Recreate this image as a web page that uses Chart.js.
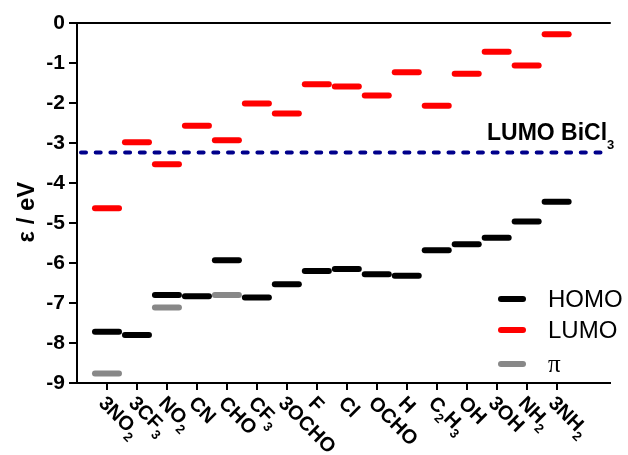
<!DOCTYPE html>
<html>
<head>
<meta charset="utf-8">
<script src="https://cdn.jsdelivr.net/npm/chart.js@4"></script>
<style>
  body { margin: 0; background: #fff; }
  #wrap { width: 628px; height: 455px; }
</style>
</head>
<body>
<div id="wrap"><canvas id="myChart"></canvas></div>
<script>
// _n marks a subscript digit
const substituents = ['3NO_2', '3CF_3', 'NO_2', 'CN', 'CHO', 'CF_3', '3OCHO', 'F', 'Cl', 'OCHO', 'H', 'C_2H_3', 'OH', '3OH', 'NH_2', '3NH_2']
const homo = [-7.72, -7.80, -6.80, -6.83, -5.93, -6.86, -6.53, -6.20, -6.15, -6.28, -6.32, -5.68, -5.53, -5.37, -4.96, -4.47]
const lumo = [-4.63, -2.98, -3.53, -2.57, -2.93, -2.01, -2.26, -1.53, -1.59, -1.81, -1.23, -2.07, -1.27, -0.72, -1.06, -0.28]
const pi = [-8.76, null, -7.11, null, -6.80, null, null, null, null, null, null, null, null, null, null, null]
const bicl3Lumo = -3.24

const FONT = '"Liberation Sans", Arial, sans-serif'
Chart.defaults.font.family = FONT
Chart.defaults.color = '#000'

const toPoints = arr => arr.map((v, i) => ({ x: i + 1, y: v }))

function drawSub(ctx, text, x, y, size, subSize, subDrop) {
    const parts = text.split(/_(\d)/)
    parts.forEach((p, i) => {
        if (!p) return
        if (i % 2) {
            ctx.font = 'bold ' + subSize + 'px ' + FONT
            ctx.fillText(p, x, y + subDrop)
        } else {
            ctx.font = 'bold ' + size + 'px ' + FONT
            ctx.fillText(p, x, y)
        }
        x += ctx.measureText(p).width
    })
}

const extras = {
    id: 'extras',
    beforeDatasetsDraw(chart) {
        const { ctx, chartArea, scales } = chart
        const y = scales.y.getPixelForValue(bicl3Lumo)
        ctx.save()
        ctx.strokeStyle = '#00008B'
        ctx.lineWidth = 4
        ctx.lineCap = 'round'
        ctx.setLineDash([5, 9.7])
        ctx.beginPath()
        ctx.moveTo(chartArea.left + 4, y)
        ctx.lineTo(chartArea.right, y)
        ctx.stroke()
        ctx.restore()

        ctx.save()
        ctx.fillStyle = '#000'
        ctx.textBaseline = 'alphabetic'
        drawSub(ctx, 'LUMO BiCl_3', 487, y - 13, 23, 13, 9)
        ctx.restore()
        // round ends for the level bars
        ctx.lineCap = 'round'
    },
    beforeDatasetDraw(chart) {
        chart.ctx.lineCap = 'round'
    },
    afterDraw(chart) {
        const { ctx, chartArea, scales } = chart
        ctx.save()
        ctx.strokeStyle = '#000'
        ctx.lineWidth = 2
        ctx.beginPath()
        ctx.moveTo(chartArea.left - 1, chartArea.top)
        ctx.lineTo(chartArea.right, chartArea.top)
        ctx.stroke()

        // category labels, rotated down to the right
        ctx.fillStyle = '#000'
        ctx.textAlign = 'left'
        ctx.textBaseline = 'alphabetic'
        substituents.forEach((lab, i) => {
            const x = scales.x.getPixelForValue(i + 1)
            ctx.save()
            ctx.translate(x + 1, 394)
            ctx.rotate(Math.PI / 4)
            drawSub(ctx, lab, 0, 14.5, 20, 13, 6)
            ctx.restore()
        })

        // y title
        ctx.save()
        ctx.translate(27, 212)
        ctx.rotate(-Math.PI / 2)
        ctx.font = 'bold 24px ' + FONT
        ctx.textAlign = 'center'
        ctx.textBaseline = 'middle'
        ctx.fillText('ε / eV', 0, 0)
        ctx.restore()

        // legend
        const rows = [299, 330, 364]
        chart.data.datasets.forEach((ds, i) => {
            const yy = rows[i]
            ctx.strokeStyle = ds.borderColor
            ctx.lineWidth = 6
            ctx.lineCap = 'round'
            ctx.beginPath()
            ctx.moveTo(501, yy)
            ctx.lineTo(523, yy)
            ctx.stroke()
            ctx.fillStyle = '#000'
            ctx.textBaseline = 'middle'
            ctx.font = ds.label === 'π' ? '25px "Liberation Serif", serif' : '24px ' + FONT
            ctx.fillText(ds.label, 548, yy + 1)
        })
        ctx.restore()
    }
}

const levelStyle = color => ({
    pointStyle: 'line',
    pointRadius: 12,
    pointBorderWidth: 6,
    borderColor: color,
    backgroundColor: color,
    showLine: false
})

const config = {
    type: 'scatter',
    data: {
        datasets: [
            { label: 'HOMO', data: toPoints(homo), ...levelStyle('#000000') },
            { label: 'LUMO', data: toPoints(lumo), ...levelStyle('#ff0000') },
            { label: 'π', data: toPoints(pi), ...levelStyle('#888888') }
        ]
    },
    options: {
        responsive: true,
        maintainAspectRatio: false,
        animation: false,
        events: [],
        layout: { padding: { top: 23, right: 0, left: 0, bottom: 0 } },
        plugins: { legend: { display: false }, tooltip: { enabled: false } },
        scales: {
            x: {
                type: 'linear',
                min: 0,
                max: 17.78,
                afterBuildTicks: scale => { scale.ticks = substituents.map((_, i) => ({ value: i + 1 })) },
                afterFit: scale => { scale.height = 72 },
                ticks: { display: false },
                grid: { drawOnChartArea: false, tickLength: 7, tickColor: '#000', lineWidth: 2 },
                border: { color: '#000', width: 2 }
            },
            y: {
                min: -9,
                max: 0,
                ticks: { stepSize: 1, font: { size: 21, weight: 'bold' }, padding: 4, color: '#000' },
                afterFit: scale => { scale.width = 77 },
                grid: { drawOnChartArea: false, tickLength: 8, tickColor: '#000', lineWidth: 2 },
                border: { color: '#000', width: 2 }
            }
        }
    },
    plugins: [extras]
}

const myChart = new Chart(document.getElementById('myChart'), config)
</script>
</body>
</html>
